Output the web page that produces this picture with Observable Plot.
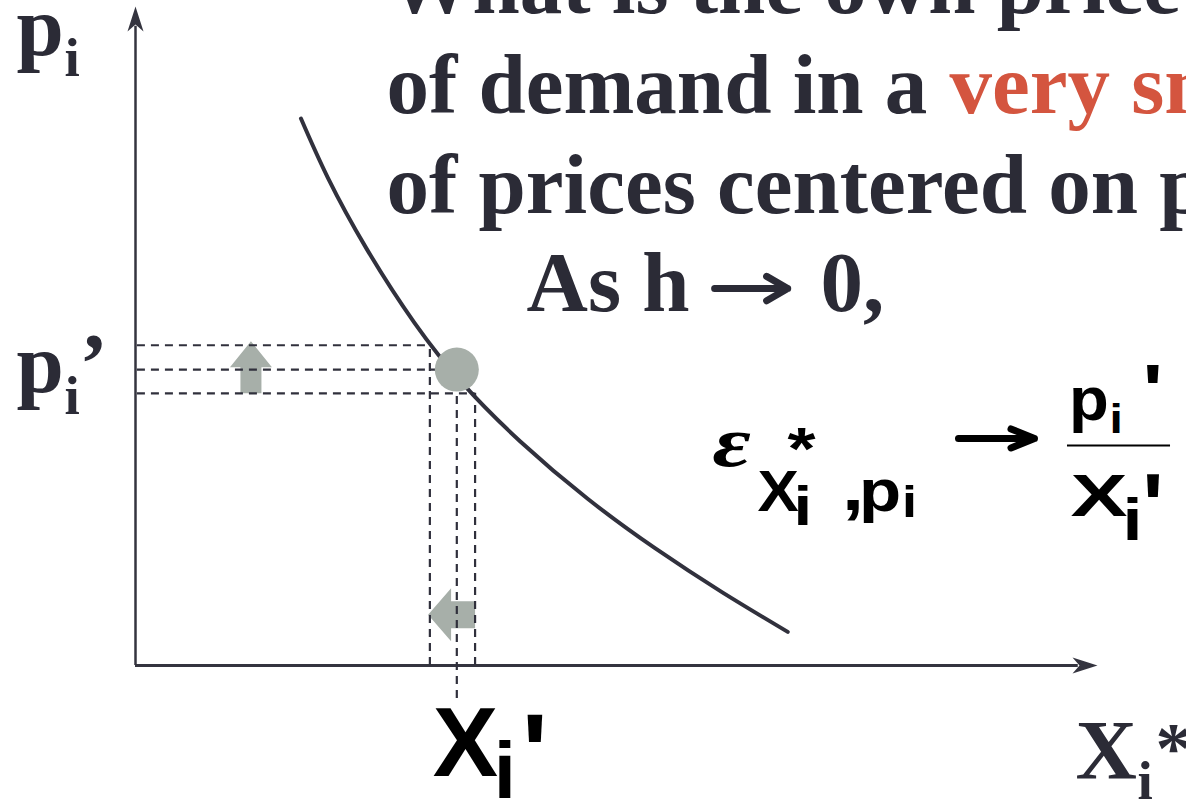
<!DOCTYPE html>
<html>
<head>
<meta charset="utf-8">
<script src="https://cdn.jsdelivr.net/npm/d3@7"></script>
<script src="https://cdn.jsdelivr.net/npm/@observablehq/plot@0.6"></script>
<style>
  html, body { margin: 0; padding: 0; background: #fff; overflow: hidden; }
</style>
</head>
<body>
<div id="chart"></div>
<script>
// Demand curve for good i: quantity demanded X_i* against its own price p_i
const demandX = [1.72, 2.00, 2.40, 2.90, 3.40, 4.00, 4.70, 5.40, 6.10, 6.78];
const demandP = [8.30, 7.40, 6.33, 5.20, 4.28, 3.40, 2.53, 1.78, 1.11, 0.51];

// Reference bundle (X_i', p_i') and the small price window p_i' ± h
const pointX = 3.34;
const pointP = 4.49;
const priceRange = [4.13, 4.86];     // p_i' − h, p_i' + h
const quantityRange = [3.53, 3.06];  // quantities demanded at those two prices
const labelDrop = -0.5;              // guide line reaches down to the X_i' label

// Text
const titleLines = ["What is the own price elasticity", "of demand in a", "very small range", "of prices centered on pi’?", "As h", "0,"];
const axisLabels = {p: "p", x: "X", sub: "i", prime: "’", star: "*", tick: "'"};
const formulaParts = ["ε", "X", "*", "i", ",", "p", "i"];
const fractionTop = ["p", "i", "'"];
const fractionBottom = ["X", "i", "'"];

// Colours
const ink = "#2b2b36";
const red = "#d4553f";
const grey = "#a7afa9";
const lineInk = "#31313d";

const demand = demandX.map((x, i) => ({x, p: demandP[i]}));

// Shapes used as dot symbols (drawn in pixels around the anchor)
const axisHeadUp = {draw(c) { c.moveTo(0, 0); c.lineTo(8, 25); c.lineTo(0, 18); c.lineTo(-8, 25); c.closePath(); }};
const axisHeadRight = {draw(c) { c.moveTo(0, 0); c.lineTo(-25, -8); c.lineTo(-18, 0); c.lineTo(-25, 8); c.closePath(); }};
const blockUp = {draw(c) { // anchored at the tail centre
  c.moveTo(-10.5, 0); c.lineTo(-10.5, -26); c.lineTo(-21, -26); c.lineTo(0, -52);
  c.lineTo(21, -26); c.lineTo(10.5, -26); c.lineTo(10.5, 0); c.closePath();
}};
const blockLeft = {draw(c) { // anchored at the tail centre
  c.moveTo(0, -13.5); c.lineTo(-24, -13.5); c.lineTo(-24, -26.5); c.lineTo(-47, 0);
  c.lineTo(-24, 26.5); c.lineTo(-24, 13.5); c.lineTo(0, 13.5); c.closePath();
}};

const serif = {fontFamily: "Liberation Serif, 'Times New Roman', serif", fontWeight: "bold", fill: ink, textAnchor: "start", lineAnchor: "bottom"};
const sans = {fontFamily: "Liberation Sans, Arial, sans-serif", fontWeight: "bold", fill: "#000", textAnchor: "start", lineAnchor: "bottom"};
const dash = {stroke: "#30303c", strokeWidth: 2.2, strokeDasharray: "8,6"};

// A text piece anchored at a data position, nudged in pixels
const piece = (t, x, y, dx, dy, fontSize, style, sx) =>
  Plot.text([t], {x: () => x, y: () => y, text: (d) => d, dx, dy, fontSize, ...style,
    ...(sx ? {ariaDescription: `stretch ${sx}`} : {})});
// A piece of the heading, placed from the top-left corner of the frame
const heading = (t, dx, dy, fill = ink) =>
  Plot.text([t], {frameAnchor: "top-left", text: (d) => d, dx, dy, fontSize: 85, ...serif, fill});

// Formula anchor (start of ε, on its baseline)
const fX = 6.03, fP = 3.035;

const chart = Plot.plot({
  width: 1186,
  height: 799,
  marginLeft: 135,
  marginRight: 89,
  marginTop: 6,
  marginBottom: 134,
  x: {domain: [0, 10], axis: null},
  y: {domain: [0, 10], axis: null},
  marks: [
    // axes with arrowheads
    Plot.ruleX([0], {y1: 0, y2: 9.7, stroke: "#34343f", strokeWidth: 2.5}),
    Plot.ruleY([0], {x1: 0, x2: 9.8, stroke: "#34343f", strokeWidth: 3}),
    Plot.dot([0], {x: () => 0, y: () => 10, symbol: axisHeadUp, fill: "#34343f", stroke: "none"}),
    Plot.dot([0], {x: () => 10, y: () => 0, symbol: axisHeadRight, fill: "#34343f", stroke: "none"}),

    // direction arrows: price rises, quantity falls
    Plot.dot([0], {x: () => 1.2, y: () => priceRange[0], symbol: blockUp, fill: grey, stroke: "none"}),
    Plot.dot([0], {x: () => quantityRange[0], y: () => 0.77, symbol: blockLeft, fill: grey, stroke: "none"}),

    // dashed guides for p_i' ± h and the matching quantities
    Plot.ruleY([
      {p: priceRange[1], x: quantityRange[1]},
      {p: pointP, x: pointX},
      {p: priceRange[0], x: quantityRange[0]}
    ], {y: "p", x1: 0.02, x2: "x", ...dash}),
    Plot.ruleX([
      {x: quantityRange[1], top: priceRange[1], bottom: 0},
      {x: pointX, top: pointP, bottom: labelDrop},
      {x: quantityRange[0], top: priceRange[0], bottom: 0}
    ], {x: "x", y1: "bottom", y2: "top", ...dash}),

    // demand curve and the reference point
    Plot.line(demand, {x: "x", y: "p", curve: "natural", stroke: lineInk, strokeWidth: 4, strokeLinecap: "round"}),
    Plot.dot([{x: pointX, p: pointP}], {x: "x", y: "p", r: 22, fill: grey, stroke: "none"}),

    // heading
    heading(titleLines[0], 252, 6),
    heading(titleLines[1], 251, 106),
    heading(titleLines[2], 814, 106, red),
    heading(titleLines[3], 251, 206),
    heading(titleLines[4], 391, 304),
    Plot.arrow([0], {x1: () => 6.02, x2: () => 6.78, y1: () => 5.72, y2: () => 5.72, stroke: ink, strokeWidth: 7, headAngle: 60, headLength: 6}),
    heading(titleLines[5], 685, 304),

    // axis labels
    piece(axisLabels.p, 0, 10, -119, 48, 85, serif),
    piece(axisLabels.sub, 0, 10, -71, 69, 55, serif),
    piece(axisLabels.p, 0, pointP, -119, 22.5, 85, serif),
    piece(axisLabels.sub, 0, pointP, -71, 44, 55, serif),
    piece(axisLabels.prime, 0, pointP, -56, 22.5, 85, serif),
    piece(axisLabels.x, 10, 0, -22, 113, 85, serif),
    piece(axisLabels.sub, 10, 0, 40, 133, 55, serif),
    piece(axisLabels.star, 10, 0, 58, 106, 72, serif),
    piece(axisLabels.x, pointX, 0, -24, 110, 98, sans),
    piece(axisLabels.sub, pointX, 0, 37, 132, 80, sans),
    piece(axisLabels.tick, pointX, 0, 65, 124, 110, sans),

    // elasticity formula
    piece(formulaParts[0], fX, fP, -3, 1, 72, {...serif, fontStyle: "italic", fill: "#000"}, 1.3),
    piece(formulaParts[1], fX, fP, 42, 46, 58, sans, 1.07),
    piece(formulaParts[2], fX, fP, 72, 4, 60, sans, 1.2),
    piece(formulaParts[3], fX, fP, 78, 60, 56, sans, 1.2),
    piece(formulaParts[4], fX, fP, 126.5, 45, 66, sans, 1.2),
    piece(formulaParts[5], fX, fP, 143.4, 46, 60, sans, 1.15),
    piece(formulaParts[6], fX, fP, 186.4, 52, 45, sans, 1.2),
    Plot.arrow([0], {x1: () => 8.555, x2: () => 9.345, y1: () => 3.445, y2: () => 3.445, stroke: "#000", strokeWidth: 7, headAngle: 44, headLength: 6}),
    Plot.ruleY([3.338], {x1: 9.688, x2: 10.759, stroke: "#000", strokeWidth: 2}),
    piece(fractionTop[0], fX, fP, 353.4, -45, 62, sans, 1.05),
    piece(fractionTop[1], fX, fP, 394, -32, 40, sans, 1.2),
    piece(fractionTop[2], fX, fP, 427, -50, 72, sans, 1.2),
    piece(fractionBottom[0], fX, fP, 355, 51, 59, sans, 1.45),
    piece(fractionBottom[1], fX, fP, 407, 75, 60, sans, 1.2),
    piece(fractionBottom[2], fX, fP, 426.6, 72, 90, sans, 1)
  ]
});

// widen the formula glyphs horizontally about their start points
chart.querySelectorAll('g[aria-description^="stretch"]').forEach((g) => {
  const sx = +g.getAttribute("aria-description").split(" ")[1];
  g.querySelectorAll("text").forEach((t) => {
    t.setAttribute("transform", `${t.getAttribute("transform") || ""} scale(${sx},1)`);
  });
});

document.getElementById("chart").appendChild(chart);
</script>
</body>
</html>
